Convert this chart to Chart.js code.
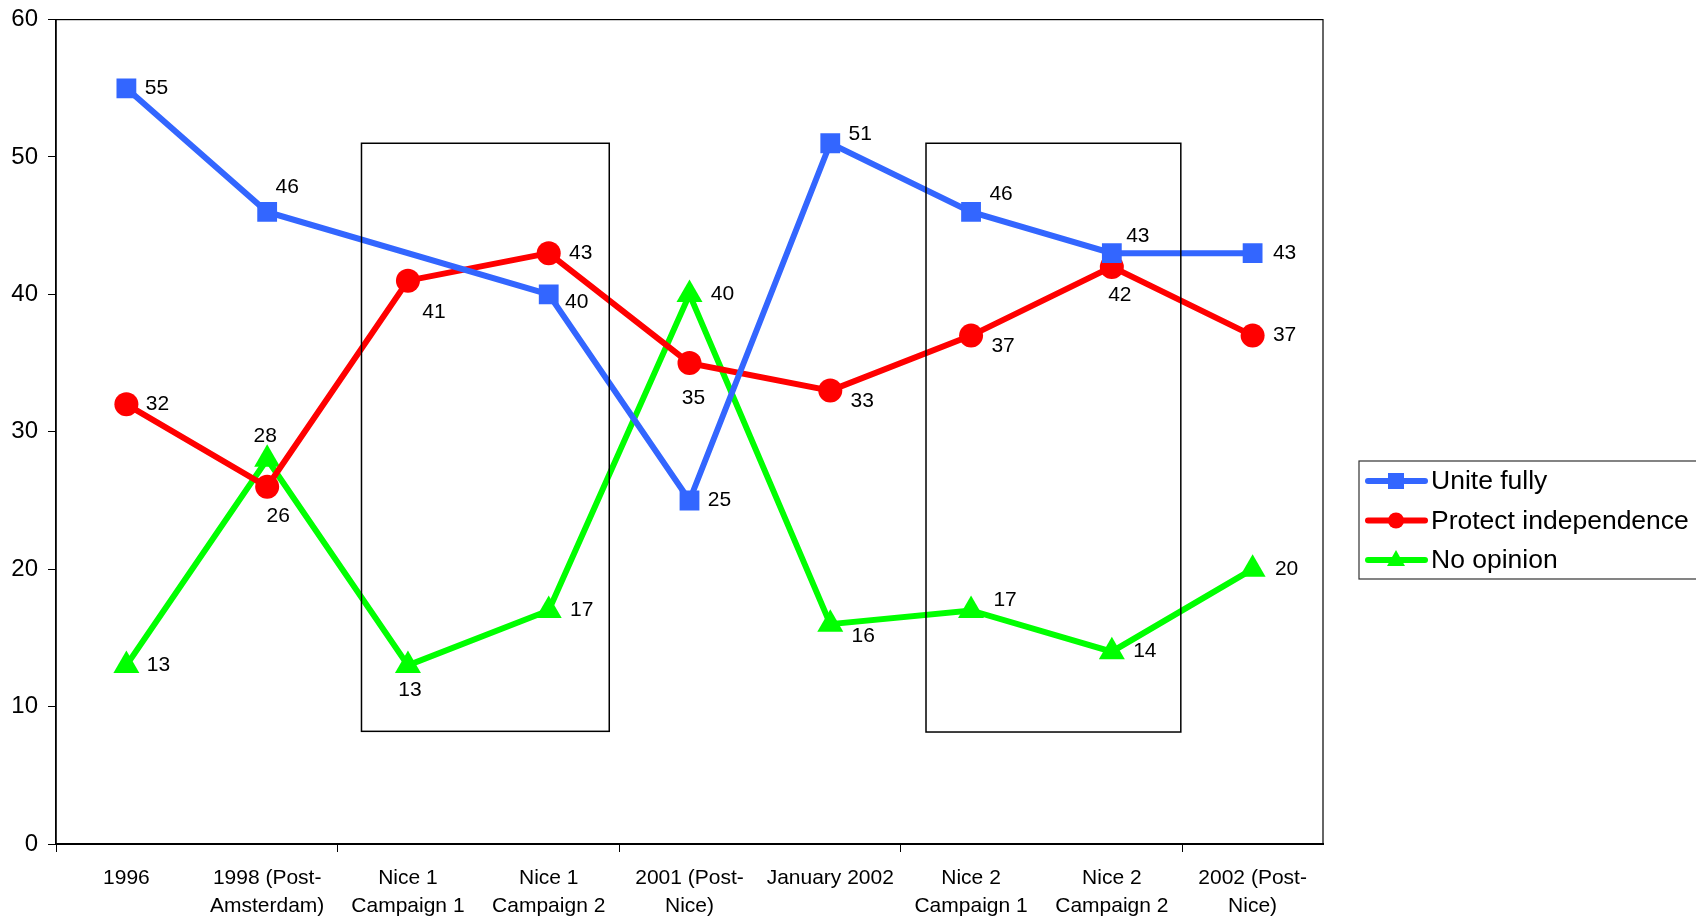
<!DOCTYPE html>
<html>
<head>
<meta charset="utf-8">
<script src="https://cdn.jsdelivr.net/npm/chart.js@4.4.1/dist/chart.umd.min.js"></script>
<style>
  body { margin: 0; background: #fff; }
  #wrap { position: relative; width: 1696px; height: 917px; }
</style>
</head>
<body>
<div id="wrap"><canvas id="chart" width="1696" height="917"></canvas></div>
<script>
// categories and values
const categories = [
  "1996", ["1998 (Post-", "Amsterdam)"], ["Nice 1", "Campaign 1"], ["Nice 1", "Campaign 2"],
  ["2001 (Post-", "Nice)"], "January 2002", ["Nice 2", "Campaign 1"], ["Nice 2", "Campaign 2"],
  ["2002 (Post-", "Nice)"]
];
const uniteFully = [55, 46, null, 40, 25, 51, 46, 43, 43];
const protectIndependence = [32, 26, 41, 43, 35, 33, 37, 42, 37];
const noOpinion = [13, 28, 13, 17, 40, 16, 17, 14, 20];
const yTicks = [0, 10, 20, 30, 40, 50, 60];

// highlighted boxes: [fromIndex, toIndex, lowValue, highValue]
const boxes = [[1.67, 3.43, 8.2, 51], [5.68, 7.49, 8.15, 51]];

// where each value label sits relative to its point (px)
const uniteOffsets = [[30,0],[20,-25],null,[28,8],[30,0],[30,-9],[30,-18],[26,-17],[32,0]];
const protectOffsets = [[31,0],[11,29],[26,32],[32,0],[4,35],[32,11],[32,11],[8,28],[32,0]];
const noOpinionOffsets = [[32,0],[-2,-23],[2,25],[33,0],[33,0],[33,12],[34,-10],[33,0],[34,0]];

const BLUE = "#3366ff", RED = "#ff0000", GREEN = "#00ff00";
const FONT = "'Liberation Sans', Arial, sans-serif";

const extras = {
  id: "extras",
  beforeDatasetsDraw(chart) {
    const { ctx, chartArea: a } = chart;
    ctx.save();
    ctx.strokeStyle = "#000";
    ctx.lineWidth = 1.2;
    ctx.strokeRect(a.left, a.top, a.right - a.left, a.bottom - a.top);
    ctx.restore();
  },
  afterDatasetsDraw(chart) {
    const { ctx } = chart;
    const x = chart.scales.x, y = chart.scales.y;
    ctx.save();
    ctx.strokeStyle = "#000";
    ctx.lineWidth = 1.5;
    boxes.forEach(b => {
      const x1 = x.getPixelForValue(b[0]), x2 = x.getPixelForValue(b[1]);
      const y1 = y.getPixelForValue(b[3]), y2 = y.getPixelForValue(b[2]);
      ctx.strokeRect(x1, y1, x2 - x1, y2 - y1);
    });
    // value labels
    ctx.fillStyle = "#000";
    ctx.font = "21px " + FONT;
    ctx.textAlign = "center";
    ctx.textBaseline = "middle";
    chart.data.datasets.forEach((ds, di) => {
      const meta = chart.getDatasetMeta(di);
      meta.data.forEach((pt, i) => {
        const v = ds.data[i];
        if (v === null) return;
        const off = ds.labelOffsets[i];
        ctx.fillText(String(v), pt.x + off[0], pt.y + off[1]);
      });
    });
    // legend
    const lx = 1359, ly = 461, lw = 345, lh = 118;
    ctx.lineWidth = 1.2;
    ctx.strokeStyle = "#333";
    ctx.strokeRect(lx, ly, lw, lh);
    ctx.font = "26.5px " + FONT;
    ctx.textAlign = "left";
    chart.data.datasets.forEach((ds, di) => {
      const ry = ly + 20 + di * 39.5;
      ctx.strokeStyle = ds.borderColor;
      ctx.lineWidth = 6;
      ctx.lineCap = "round";
      ctx.beginPath();
      ctx.moveTo(1368, ry);
      ctx.lineTo(1425, ry);
      ctx.stroke();
      ctx.fillStyle = ds.borderColor;
      const cx = 1396;
      if (ds.pointStyle === "rect") {
        ctx.fillRect(cx - 8, ry - 8, 16, 16);
      } else if (ds.pointStyle === "circle") {
        ctx.beginPath(); ctx.arc(cx, ry, 8, 0, Math.PI * 2); ctx.fill();
      } else {
        ctx.beginPath(); ctx.moveTo(cx, ry - 10); ctx.lineTo(cx + 9, ry + 6); ctx.lineTo(cx - 9, ry + 6); ctx.closePath(); ctx.fill();
      }
      ctx.fillStyle = "#000";
      ctx.fillText(ds.label, 1431, ry + 1);
    });
    ctx.restore();
  }
};

function series(label, data, color, style, radius, offsets) {
  return {
    label, data,
    borderColor: color, backgroundColor: color,
    borderWidth: 6,
    pointStyle: style, pointRadius: radius, pointHoverRadius: radius,
    pointBorderWidth: 0,
    labelOffsets: offsets,
    tension: 0
  };
}

new Chart(document.getElementById("chart"), {
  type: "line",
  data: {
    labels: categories,
    datasets: [
      series("Unite fully", uniteFully, BLUE, "rect", 14, uniteOffsets),
      series("Protect independence", protectIndependence, RED, "circle", 12, protectOffsets),
      series("No opinion", noOpinion, GREEN, "triangle", 15, noOpinionOffsets)
    ]
  },
  options: {
    responsive: false,
    animation: false,
    spanGaps: true,
    layout: { padding: { top: 15, right: 373, left: 0, bottom: 0 } },
    plugins: { legend: { display: false }, tooltip: { enabled: false } },
    scales: {
      x: {
        offset: true,
        border: { color: "#000", width: 2 },
        grid: {
          offset: true,
          drawOnChartArea: false,
          tickLength: 8,
          color: c => (c.index % 2 === 0 ? "#000" : "rgba(0,0,0,0)")
        },
        ticks: {
          color: "#000", font: { family: FONT, size: 21, lineHeight: 1.3 }, padding: 13,
          maxRotation: 0, autoSkip: false
        },
        afterFit: s => { s.height = 73; }
      },
      y: {
        min: 0, max: 60,
        border: { color: "#000", width: 1.5 },
        grid: { drawOnChartArea: false, tickLength: 8, color: "#000" },
        afterBuildTicks: s => { s.ticks = yTicks.map(v => ({ value: v })); },
        ticks: { color: "#000", font: { family: FONT, size: 24, lineHeight: 0.8 }, padding: 10 },
        afterFit: s => { s.width = 56; }
      }
    }
  },
  plugins: [extras]
});
</script>
</body>
</html>
